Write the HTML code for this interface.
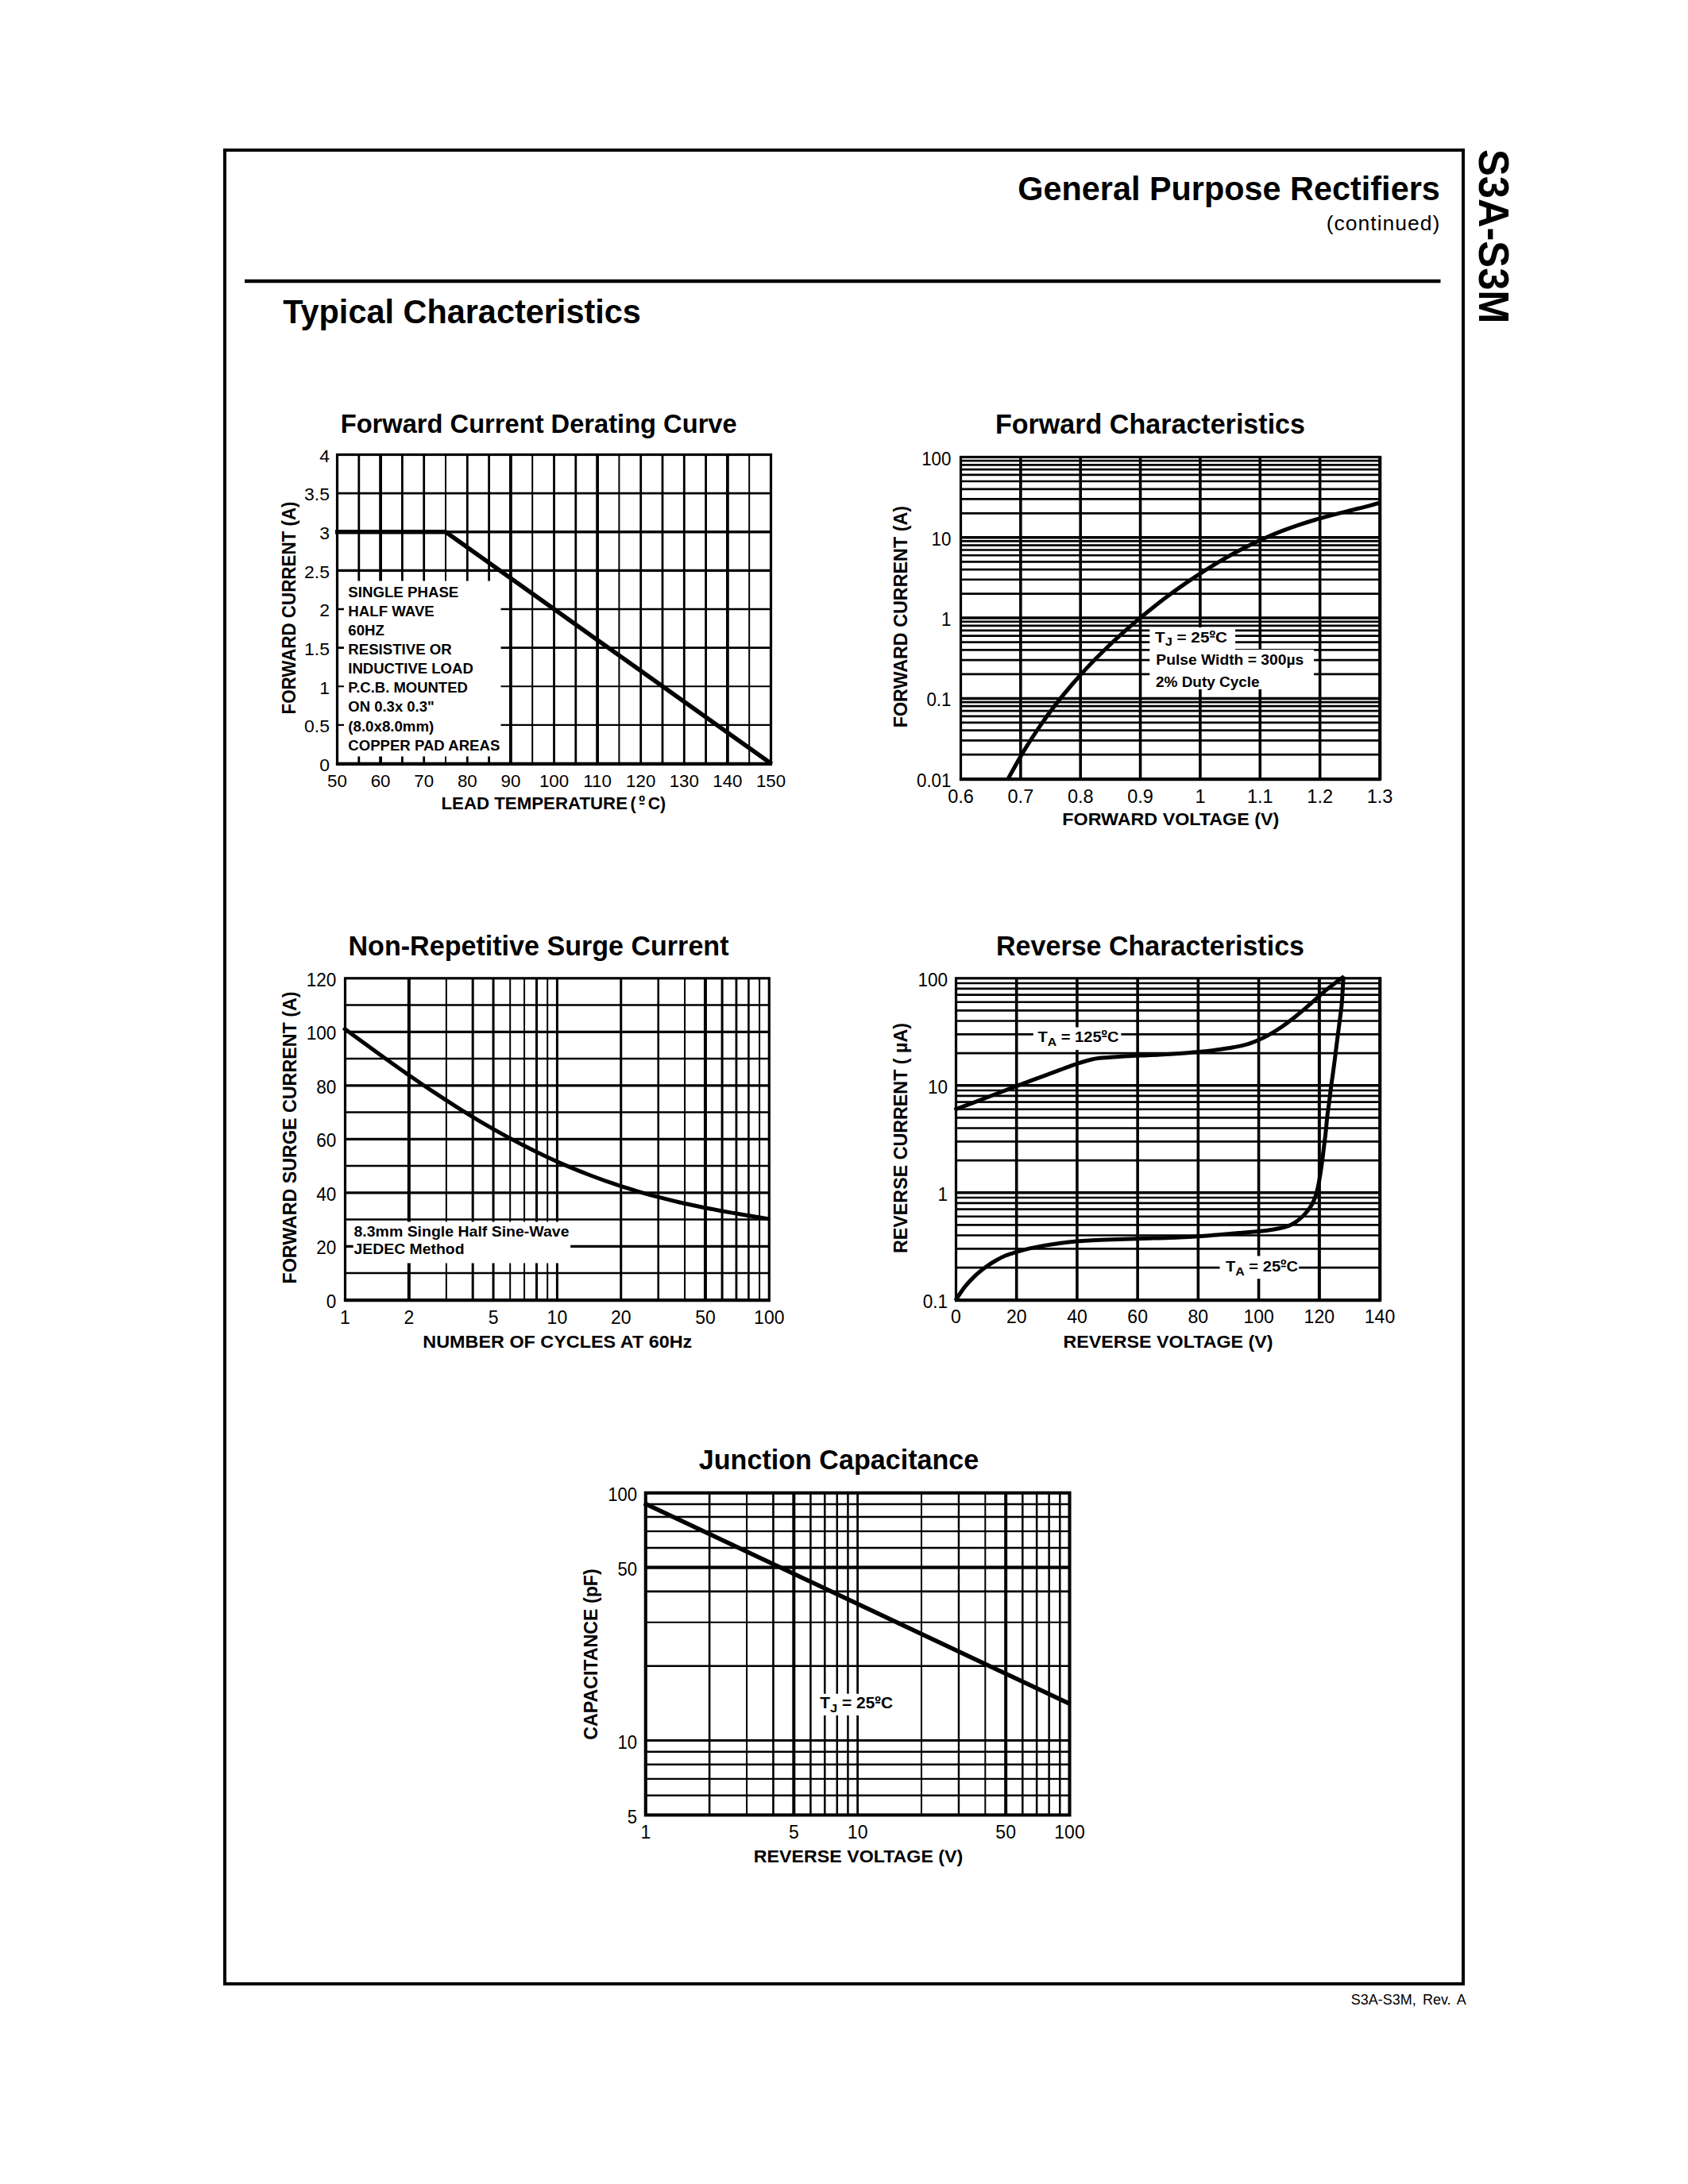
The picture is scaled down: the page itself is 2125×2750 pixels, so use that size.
<!DOCTYPE html><html><head><meta charset="utf-8"><title>S3A-S3M</title><style>html,body{margin:0;padding:0;background:#fff}svg{display:block}</style></head><body><svg width="2125" height="2750" viewBox="0 0 2125 2750" font-family='"Liberation Sans", sans-serif' fill="#000" stroke="#000">
<style>text{stroke:none}</style>
<rect x="283" y="189" width="1559" height="2309" fill="none" stroke-width="4"/>
<line x1="308.00" y1="354.00" x2="1813.50" y2="354.00" stroke-width="4.4"/>
<text x="1812.80" y="251.70" font-size="43.3" font-weight="bold" text-anchor="end" textLength="531.5" lengthAdjust="spacingAndGlyphs">General Purpose Rectifiers</text>
<text x="1812.30" y="290.00" font-size="26.5" text-anchor="end" textLength="142.5" lengthAdjust="spacing">(continued)</text>
<text x="356.30" y="407.00" font-size="43.3" font-weight="bold" textLength="450.5" lengthAdjust="spacingAndGlyphs">Typical Characteristics</text>
<text x="1861.80" y="188.00" font-size="53.5" font-weight="bold" textLength="219.5" lengthAdjust="spacingAndGlyphs" transform="rotate(90 1861.80 188.00)">S3A-S3M</text>
<text x="1845.8" y="2524" font-size="18" text-anchor="end" word-spacing="3.2">S3A-S3M, Rev. A</text>
<line x1="451.80" y1="572.50" x2="451.80" y2="961.50" stroke-width="2.8"/>
<line x1="479.10" y1="572.50" x2="479.10" y2="961.50" stroke-width="3.8"/>
<line x1="506.40" y1="572.50" x2="506.40" y2="961.50" stroke-width="2.8"/>
<line x1="533.70" y1="572.50" x2="533.70" y2="961.50" stroke-width="2.8"/>
<line x1="561.00" y1="572.50" x2="561.00" y2="961.50" stroke-width="2"/>
<line x1="588.30" y1="572.50" x2="588.30" y2="961.50" stroke-width="2.8"/>
<line x1="615.60" y1="572.50" x2="615.60" y2="961.50" stroke-width="2.8"/>
<line x1="642.90" y1="572.50" x2="642.90" y2="961.50" stroke-width="3.8"/>
<line x1="670.20" y1="572.50" x2="670.20" y2="961.50" stroke-width="2"/>
<line x1="697.50" y1="572.50" x2="697.50" y2="961.50" stroke-width="2.8"/>
<line x1="724.80" y1="572.50" x2="724.80" y2="961.50" stroke-width="2.8"/>
<line x1="752.10" y1="572.50" x2="752.10" y2="961.50" stroke-width="3.8"/>
<line x1="779.40" y1="572.50" x2="779.40" y2="961.50" stroke-width="2"/>
<line x1="806.70" y1="572.50" x2="806.70" y2="961.50" stroke-width="2.8"/>
<line x1="834.00" y1="572.50" x2="834.00" y2="961.50" stroke-width="2.8"/>
<line x1="861.30" y1="572.50" x2="861.30" y2="961.50" stroke-width="2.8"/>
<line x1="888.60" y1="572.50" x2="888.60" y2="961.50" stroke-width="2.8"/>
<line x1="915.90" y1="572.50" x2="915.90" y2="961.50" stroke-width="3.8"/>
<line x1="943.20" y1="572.50" x2="943.20" y2="961.50" stroke-width="2"/>
<line x1="424.50" y1="621.12" x2="970.50" y2="621.12" stroke-width="2.6"/>
<line x1="424.50" y1="669.75" x2="970.50" y2="669.75" stroke-width="3.3"/>
<line x1="424.50" y1="718.38" x2="970.50" y2="718.38" stroke-width="3.3"/>
<line x1="424.50" y1="767.00" x2="970.50" y2="767.00" stroke-width="2.6"/>
<line x1="424.50" y1="815.62" x2="970.50" y2="815.62" stroke-width="2.6"/>
<line x1="424.50" y1="864.25" x2="970.50" y2="864.25" stroke-width="2.2"/>
<line x1="424.50" y1="912.88" x2="970.50" y2="912.88" stroke-width="2.2"/>
<rect x="433.00" y="731.50" width="197.50" height="221.00" fill="#fff" stroke="none"/>
<rect x="424.5" y="572.5" width="546.0" height="389.0" fill="none" stroke-width="3.2"/>
<line x1="422.90" y1="961.90" x2="972.10" y2="961.90" stroke-width="4.1"/>
<polyline points="422.0,669.75 561.0,669.75 971.5,962.0" fill="none" stroke-width="5.5"/>
<text x="428.70" y="544.60" font-size="33.6" font-weight="bold" textLength="499" lengthAdjust="spacingAndGlyphs">Forward Current Derating Curve</text>
<text font-size="22.3" text-anchor="end" transform="translate(415.00 581.80) scale(1.03 1)">4</text>
<text font-size="22.3" text-anchor="end" transform="translate(415.00 630.42) scale(1.03 1)">3.5</text>
<text font-size="22.3" text-anchor="end" transform="translate(415.00 679.05) scale(1.03 1)">3</text>
<text font-size="22.3" text-anchor="end" transform="translate(415.00 727.67) scale(1.03 1)">2.5</text>
<text font-size="22.3" text-anchor="end" transform="translate(415.00 776.30) scale(1.03 1)">2</text>
<text font-size="22.3" text-anchor="end" transform="translate(415.00 824.92) scale(1.03 1)">1.5</text>
<text font-size="22.3" text-anchor="end" transform="translate(415.00 873.55) scale(1.03 1)">1</text>
<text font-size="22.3" text-anchor="end" transform="translate(415.00 922.17) scale(1.03 1)">0.5</text>
<text font-size="22.3" text-anchor="end" transform="translate(415.00 970.80) scale(1.03 1)">0</text>
<text font-size="22.3" text-anchor="middle" transform="translate(424.50 990.80) scale(1.0 1)">50</text>
<text font-size="22.3" text-anchor="middle" transform="translate(479.10 990.80) scale(1.0 1)">60</text>
<text font-size="22.3" text-anchor="middle" transform="translate(533.70 990.80) scale(1.0 1)">70</text>
<text font-size="22.3" text-anchor="middle" transform="translate(588.30 990.80) scale(1.0 1)">80</text>
<text font-size="22.3" text-anchor="middle" transform="translate(642.90 990.80) scale(1.0 1)">90</text>
<text font-size="22.3" text-anchor="middle" transform="translate(697.50 990.80) scale(1.0 1)">100</text>
<text font-size="22.3" text-anchor="middle" transform="translate(752.10 990.80) scale(1.0 1)">110</text>
<text font-size="22.3" text-anchor="middle" transform="translate(806.70 990.80) scale(1.0 1)">120</text>
<text font-size="22.3" text-anchor="middle" transform="translate(861.30 990.80) scale(1.0 1)">130</text>
<text font-size="22.3" text-anchor="middle" transform="translate(915.90 990.80) scale(1.0 1)">140</text>
<text font-size="22.3" text-anchor="middle" transform="translate(970.50 990.80) scale(1.0 1)">150</text>
<text y="1019.4" font-size="21.3" font-weight="bold"><tspan x="555.5" textLength="234.5" lengthAdjust="spacingAndGlyphs">LEAD TEMPERATURE</tspan><tspan x="787.7"> (</tspan><tspan class="ord" dy="-2" dx="3.6">º</tspan><tspan dy="2" dx="3.6">C)</tspan></text>
<text x="372.30" y="899.50" font-size="23.6" font-weight="bold" textLength="268" lengthAdjust="spacingAndGlyphs" transform="rotate(-90 372.30 899.50)">FORWARD CURRENT (A)</text>
<text x="438.30" y="751.80" font-size="18.2" font-weight="bold" textLength="139" lengthAdjust="spacingAndGlyphs">SINGLE PHASE</text>
<text x="438.30" y="775.90" font-size="18.2" font-weight="bold" textLength="108.5" lengthAdjust="spacingAndGlyphs">HALF WAVE</text>
<text x="438.30" y="800.00" font-size="18.2" font-weight="bold" textLength="45.5" lengthAdjust="spacingAndGlyphs">60HZ</text>
<text x="438.30" y="824.10" font-size="18.2" font-weight="bold" textLength="130.5" lengthAdjust="spacingAndGlyphs">RESISTIVE OR</text>
<text x="438.30" y="848.20" font-size="18.2" font-weight="bold" textLength="157.5" lengthAdjust="spacingAndGlyphs">INDUCTIVE LOAD</text>
<text x="438.30" y="872.30" font-size="18.2" font-weight="bold" textLength="150.5" lengthAdjust="spacingAndGlyphs">P.C.B. MOUNTED</text>
<text x="438.30" y="896.40" font-size="18.2" font-weight="bold" textLength="108.5" lengthAdjust="spacingAndGlyphs">ON 0.3x 0.3"</text>
<text x="438.30" y="920.50" font-size="18.2" font-weight="bold" textLength="108" lengthAdjust="spacingAndGlyphs">(8.0x8.0mm)</text>
<text x="438.30" y="944.60" font-size="18.2" font-weight="bold" textLength="191" lengthAdjust="spacingAndGlyphs">COPPER PAD AREAS</text>
<line x1="1209.50" y1="646.31" x2="1737.00" y2="646.31" stroke-width="2.7"/>
<line x1="1209.50" y1="628.47" x2="1737.00" y2="628.47" stroke-width="2.7"/>
<line x1="1209.50" y1="615.81" x2="1737.00" y2="615.81" stroke-width="2.7"/>
<line x1="1209.50" y1="605.99" x2="1737.00" y2="605.99" stroke-width="2.7"/>
<line x1="1209.50" y1="597.97" x2="1737.00" y2="597.97" stroke-width="2.7"/>
<line x1="1209.50" y1="591.19" x2="1737.00" y2="591.19" stroke-width="2.7"/>
<line x1="1209.50" y1="585.32" x2="1737.00" y2="585.32" stroke-width="2.7"/>
<line x1="1209.50" y1="580.14" x2="1737.00" y2="580.14" stroke-width="2.7"/>
<line x1="1209.50" y1="676.80" x2="1737.00" y2="676.80" stroke-width="3.5"/>
<line x1="1209.50" y1="747.61" x2="1737.00" y2="747.61" stroke-width="2.7"/>
<line x1="1209.50" y1="729.77" x2="1737.00" y2="729.77" stroke-width="2.7"/>
<line x1="1209.50" y1="717.11" x2="1737.00" y2="717.11" stroke-width="2.7"/>
<line x1="1209.50" y1="707.29" x2="1737.00" y2="707.29" stroke-width="2.7"/>
<line x1="1209.50" y1="699.27" x2="1737.00" y2="699.27" stroke-width="2.7"/>
<line x1="1209.50" y1="692.49" x2="1737.00" y2="692.49" stroke-width="2.7"/>
<line x1="1209.50" y1="686.62" x2="1737.00" y2="686.62" stroke-width="2.7"/>
<line x1="1209.50" y1="681.44" x2="1737.00" y2="681.44" stroke-width="2.7"/>
<line x1="1209.50" y1="778.10" x2="1737.00" y2="778.10" stroke-width="3.5"/>
<line x1="1209.50" y1="848.91" x2="1737.00" y2="848.91" stroke-width="2.7"/>
<line x1="1209.50" y1="831.07" x2="1737.00" y2="831.07" stroke-width="2.7"/>
<line x1="1209.50" y1="818.41" x2="1737.00" y2="818.41" stroke-width="2.7"/>
<line x1="1209.50" y1="808.59" x2="1737.00" y2="808.59" stroke-width="2.7"/>
<line x1="1209.50" y1="800.57" x2="1737.00" y2="800.57" stroke-width="2.7"/>
<line x1="1209.50" y1="793.79" x2="1737.00" y2="793.79" stroke-width="2.7"/>
<line x1="1209.50" y1="787.92" x2="1737.00" y2="787.92" stroke-width="2.7"/>
<line x1="1209.50" y1="782.74" x2="1737.00" y2="782.74" stroke-width="2.7"/>
<line x1="1209.50" y1="879.40" x2="1737.00" y2="879.40" stroke-width="3.5"/>
<line x1="1209.50" y1="950.21" x2="1737.00" y2="950.21" stroke-width="2.7"/>
<line x1="1209.50" y1="932.37" x2="1737.00" y2="932.37" stroke-width="2.7"/>
<line x1="1209.50" y1="919.71" x2="1737.00" y2="919.71" stroke-width="2.7"/>
<line x1="1209.50" y1="909.89" x2="1737.00" y2="909.89" stroke-width="2.7"/>
<line x1="1209.50" y1="901.87" x2="1737.00" y2="901.87" stroke-width="2.7"/>
<line x1="1209.50" y1="895.09" x2="1737.00" y2="895.09" stroke-width="2.7"/>
<line x1="1209.50" y1="889.22" x2="1737.00" y2="889.22" stroke-width="2.7"/>
<line x1="1209.50" y1="884.04" x2="1737.00" y2="884.04" stroke-width="2.7"/>
<line x1="1284.86" y1="575.50" x2="1284.86" y2="980.70" stroke-width="3.6"/>
<line x1="1360.21" y1="575.50" x2="1360.21" y2="980.70" stroke-width="3.6"/>
<line x1="1435.57" y1="575.50" x2="1435.57" y2="980.70" stroke-width="3.6"/>
<line x1="1510.93" y1="575.50" x2="1510.93" y2="980.70" stroke-width="3.6"/>
<line x1="1586.29" y1="575.50" x2="1586.29" y2="980.70" stroke-width="3.6"/>
<line x1="1661.64" y1="575.50" x2="1661.64" y2="980.70" stroke-width="3.6"/>
<rect x="1447.30" y="790.00" width="107.80" height="28.50" fill="#fff" stroke="none"/>
<rect x="1447.30" y="818.00" width="206.80" height="50.00" fill="#fff" stroke="none"/>
<rect x="1209.5" y="575.5" width="527.5" height="405.20000000000005" fill="none" stroke-width="3.2"/>
<line x1="1207.90" y1="981.10" x2="1738.60" y2="981.10" stroke-width="4.1"/>
<line x1="1737.30" y1="573.90" x2="1737.30" y2="982.30" stroke-width="4"/>
<path d="M1268.3,982.1 C1271.7,976.1 1281.9,957.2 1288.7,945.9 C1295.5,934.6 1302.3,924.2 1309.1,914.3 C1315.9,904.4 1322.7,895.2 1329.5,886.4 C1336.3,877.6 1343.1,869.4 1349.9,861.5 C1356.7,853.6 1363.5,846.1 1370.3,838.9 C1377.1,831.7 1383.9,824.9 1390.6,818.3 C1397.4,811.7 1404.2,805.3 1411.0,799.2 C1417.8,793.0 1424.6,787.1 1431.4,781.4 C1438.2,775.6 1445.0,770.1 1451.8,764.7 C1458.6,759.3 1465.4,754.1 1472.2,749.1 C1479.0,744.0 1485.8,739.2 1492.6,734.4 C1499.4,729.7 1506.2,725.2 1513.0,720.8 C1519.8,716.4 1526.6,712.2 1533.4,708.1 C1540.2,704.1 1547.0,700.2 1553.8,696.5 C1560.6,692.8 1567.4,689.3 1574.2,686.0 C1581.0,682.6 1587.8,679.5 1594.6,676.5 C1601.4,673.6 1608.2,670.8 1615.0,668.2 C1621.7,665.6 1628.5,663.2 1635.3,660.9 C1642.1,658.6 1648.9,656.5 1655.7,654.5 C1662.5,652.5 1669.3,650.7 1676.1,648.8 C1682.9,647.0 1689.7,645.4 1696.5,643.7 C1703.3,641.9 1710.1,640.3 1716.9,638.6 C1723.7,636.8 1733.9,634.0 1737.3,633.0" fill="none" stroke-width="5"/>
<text x="1253.00" y="546.40" font-size="34.6" font-weight="bold" textLength="390" lengthAdjust="spacingAndGlyphs">Forward Characteristics</text>
<text font-size="24" text-anchor="end" transform="translate(1197.40 585.50) scale(0.93 1)">100</text>
<text font-size="24" text-anchor="end" transform="translate(1197.40 686.80) scale(0.93 1)">10</text>
<text font-size="24" text-anchor="end" transform="translate(1197.40 788.10) scale(0.93 1)">1</text>
<text font-size="24" text-anchor="end" transform="translate(1197.40 889.40) scale(0.93 1)">0.1</text>
<text font-size="24" text-anchor="end" transform="translate(1197.40 990.70) scale(0.93 1)">0.01</text>
<text font-size="23.5" text-anchor="middle" transform="translate(1209.50 1010.90) scale(1.0 1)">0.6</text>
<text font-size="23.5" text-anchor="middle" transform="translate(1284.86 1010.90) scale(1.0 1)">0.7</text>
<text font-size="23.5" text-anchor="middle" transform="translate(1360.21 1010.90) scale(1.0 1)">0.8</text>
<text font-size="23.5" text-anchor="middle" transform="translate(1435.57 1010.90) scale(1.0 1)">0.9</text>
<text font-size="23.5" text-anchor="middle" transform="translate(1510.93 1010.90) scale(1.0 1)">1</text>
<text font-size="23.5" text-anchor="middle" transform="translate(1586.29 1010.90) scale(1.0 1)">1.1</text>
<text font-size="23.5" text-anchor="middle" transform="translate(1661.64 1010.90) scale(1.0 1)">1.2</text>
<text font-size="23.5" text-anchor="middle" transform="translate(1737.00 1010.90) scale(1.0 1)">1.3</text>
<text x="1337.30" y="1039.30" font-size="22" font-weight="bold" textLength="273" lengthAdjust="spacingAndGlyphs">FORWARD VOLTAGE (V)</text>
<text x="1142.30" y="916.30" font-size="24.5" font-weight="bold" textLength="279.3" lengthAdjust="spacingAndGlyphs" transform="rotate(-90 1142.30 916.30)">FORWARD CURRENT (A)</text>
<text x="1454.00" y="808.50" font-size="19" font-weight="bold" textLength="91" lengthAdjust="spacingAndGlyphs">T<tspan font-size="15" dy="4.8">J</tspan><tspan dy="-4.8"> = 25<tspan class="ord" dy="-2.0" dx="0">º</tspan><tspan dy="2.0" dx="0">C</tspan></tspan></text>
<text x="1455.30" y="837.00" font-size="18.6" font-weight="bold" textLength="186" lengthAdjust="spacingAndGlyphs">Pulse Width = 300µs</text>
<text x="1455.00" y="864.70" font-size="18.6" font-weight="bold" textLength="130.6" lengthAdjust="spacingAndGlyphs">2% Duty Cycle</text>
<line x1="434.50" y1="1265.55" x2="968.30" y2="1265.55" stroke-width="2.4"/>
<line x1="434.50" y1="1299.30" x2="968.30" y2="1299.30" stroke-width="3.3"/>
<line x1="434.50" y1="1333.05" x2="968.30" y2="1333.05" stroke-width="2.4"/>
<line x1="434.50" y1="1366.80" x2="968.30" y2="1366.80" stroke-width="3.3"/>
<line x1="434.50" y1="1400.55" x2="968.30" y2="1400.55" stroke-width="2.4"/>
<line x1="434.50" y1="1434.30" x2="968.30" y2="1434.30" stroke-width="3.3"/>
<line x1="434.50" y1="1468.05" x2="968.30" y2="1468.05" stroke-width="2.4"/>
<line x1="434.50" y1="1501.80" x2="968.30" y2="1501.80" stroke-width="3.3"/>
<line x1="434.50" y1="1535.55" x2="968.30" y2="1535.55" stroke-width="2.4"/>
<line x1="434.50" y1="1569.30" x2="968.30" y2="1569.30" stroke-width="3.3"/>
<line x1="434.50" y1="1603.05" x2="968.30" y2="1603.05" stroke-width="2.4"/>
<line x1="514.84" y1="1231.80" x2="514.84" y2="1636.80" stroke-width="4"/>
<line x1="561.84" y1="1231.80" x2="561.84" y2="1636.80" stroke-width="2"/>
<line x1="595.19" y1="1231.80" x2="595.19" y2="1636.80" stroke-width="3"/>
<line x1="621.06" y1="1231.80" x2="621.06" y2="1636.80" stroke-width="3"/>
<line x1="642.19" y1="1231.80" x2="642.19" y2="1636.80" stroke-width="2"/>
<line x1="660.06" y1="1231.80" x2="660.06" y2="1636.80" stroke-width="2"/>
<line x1="675.53" y1="1231.80" x2="675.53" y2="1636.80" stroke-width="3"/>
<line x1="689.19" y1="1231.80" x2="689.19" y2="1636.80" stroke-width="2"/>
<line x1="701.40" y1="1231.80" x2="701.40" y2="1636.80" stroke-width="3"/>
<line x1="781.74" y1="1231.80" x2="781.74" y2="1636.80" stroke-width="3"/>
<line x1="828.74" y1="1231.80" x2="828.74" y2="1636.80" stroke-width="2.6"/>
<line x1="862.09" y1="1231.80" x2="862.09" y2="1636.80" stroke-width="2"/>
<line x1="887.96" y1="1231.80" x2="887.96" y2="1636.80" stroke-width="4"/>
<line x1="909.09" y1="1231.80" x2="909.09" y2="1636.80" stroke-width="3"/>
<line x1="926.96" y1="1231.80" x2="926.96" y2="1636.80" stroke-width="2.8"/>
<line x1="942.43" y1="1231.80" x2="942.43" y2="1636.80" stroke-width="2.6"/>
<line x1="956.09" y1="1231.80" x2="956.09" y2="1636.80" stroke-width="2"/>
<rect x="444.70" y="1538.50" width="273.50" height="52.00" fill="#fff" stroke="none"/>
<rect x="434.5" y="1231.8" width="533.8" height="405.0" fill="none" stroke-width="3.2"/>
<line x1="432.90" y1="1637.20" x2="969.90" y2="1637.20" stroke-width="4.1"/>
<path d="M432.3,1294.2 C437.0,1297.7 451.2,1308.2 460.6,1315.0 C470.0,1321.9 479.4,1328.8 488.9,1335.5 C498.3,1342.3 507.7,1348.9 517.2,1355.5 C526.6,1362.0 536.0,1368.5 545.4,1374.7 C554.9,1381.0 564.3,1387.2 573.7,1393.1 C583.1,1399.1 592.6,1404.9 602.0,1410.6 C611.4,1416.2 620.9,1421.6 630.3,1426.9 C639.7,1432.1 649.1,1437.2 658.6,1442.0 C668.0,1446.9 677.4,1451.5 686.9,1455.9 C696.3,1460.4 705.7,1464.6 715.1,1468.6 C724.6,1472.6 734.0,1476.4 743.4,1480.0 C752.9,1483.6 762.3,1487.0 771.7,1490.2 C781.1,1493.5 790.6,1496.4 800.0,1499.3 C809.4,1502.1 818.9,1504.7 828.3,1507.2 C837.7,1509.7 847.1,1512.0 856.6,1514.2 C866.0,1516.3 875.4,1518.3 884.8,1520.3 C894.3,1522.2 903.7,1523.9 913.1,1525.6 C922.6,1527.4 932.0,1528.9 941.4,1530.5 C950.8,1532.1 965.0,1534.3 969.7,1535.1" fill="none" stroke-width="5"/>
<text x="438.50" y="1202.50" font-size="34.8" font-weight="bold" textLength="479" lengthAdjust="spacingAndGlyphs">Non-Repetitive Surge Current</text>
<text font-size="23.5" text-anchor="end" transform="translate(423.30 1241.80) scale(0.96 1)">120</text>
<text font-size="23.5" text-anchor="end" transform="translate(423.30 1309.30) scale(0.96 1)">100</text>
<text font-size="23.5" text-anchor="end" transform="translate(423.30 1376.80) scale(0.96 1)">80</text>
<text font-size="23.5" text-anchor="end" transform="translate(423.30 1444.30) scale(0.96 1)">60</text>
<text font-size="23.5" text-anchor="end" transform="translate(423.30 1511.80) scale(0.96 1)">40</text>
<text font-size="23.5" text-anchor="end" transform="translate(423.30 1579.30) scale(0.96 1)">20</text>
<text font-size="23.5" text-anchor="end" transform="translate(423.30 1646.80) scale(0.96 1)">0</text>
<text font-size="23" text-anchor="middle" transform="translate(434.50 1666.60) scale(1.0 1)">1</text>
<text font-size="23" text-anchor="middle" transform="translate(514.84 1666.60) scale(1.0 1)">2</text>
<text font-size="23" text-anchor="middle" transform="translate(621.06 1666.60) scale(1.0 1)">5</text>
<text font-size="23" text-anchor="middle" transform="translate(701.40 1666.60) scale(1.0 1)">10</text>
<text font-size="23" text-anchor="middle" transform="translate(781.74 1666.60) scale(1.0 1)">20</text>
<text font-size="23" text-anchor="middle" transform="translate(887.96 1666.60) scale(1.0 1)">50</text>
<text font-size="23" text-anchor="middle" transform="translate(968.30 1666.60) scale(1.0 1)">100</text>
<text x="532.30" y="1696.60" font-size="22.5" font-weight="bold" textLength="339" lengthAdjust="spacingAndGlyphs">NUMBER OF CYCLES AT 60Hz</text>
<text x="372.90" y="1616.50" font-size="23.5" font-weight="bold" textLength="368" lengthAdjust="spacingAndGlyphs" transform="rotate(-90 372.90 1616.50)">FORWARD SURGE CURRENT (A)</text>
<text x="445.50" y="1557.30" font-size="18.5" font-weight="bold" textLength="271" lengthAdjust="spacingAndGlyphs">8.3mm Single Half Sine-Wave</text>
<text x="445.50" y="1579.40" font-size="18.5" font-weight="bold" textLength="139" lengthAdjust="spacingAndGlyphs">JEDEC Method</text>
<line x1="1203.50" y1="1326.16" x2="1737.00" y2="1326.16" stroke-width="2.7"/>
<line x1="1203.50" y1="1302.39" x2="1737.00" y2="1302.39" stroke-width="2.7"/>
<line x1="1203.50" y1="1285.52" x2="1737.00" y2="1285.52" stroke-width="2.7"/>
<line x1="1203.50" y1="1272.44" x2="1737.00" y2="1272.44" stroke-width="2.7"/>
<line x1="1203.50" y1="1261.75" x2="1737.00" y2="1261.75" stroke-width="2.7"/>
<line x1="1203.50" y1="1252.71" x2="1737.00" y2="1252.71" stroke-width="2.7"/>
<line x1="1203.50" y1="1244.88" x2="1737.00" y2="1244.88" stroke-width="2.7"/>
<line x1="1203.50" y1="1237.98" x2="1737.00" y2="1237.98" stroke-width="2.7"/>
<line x1="1203.50" y1="1366.80" x2="1737.00" y2="1366.80" stroke-width="3.5"/>
<line x1="1203.50" y1="1461.16" x2="1737.00" y2="1461.16" stroke-width="2.7"/>
<line x1="1203.50" y1="1437.39" x2="1737.00" y2="1437.39" stroke-width="2.7"/>
<line x1="1203.50" y1="1420.52" x2="1737.00" y2="1420.52" stroke-width="2.7"/>
<line x1="1203.50" y1="1407.44" x2="1737.00" y2="1407.44" stroke-width="2.7"/>
<line x1="1203.50" y1="1396.75" x2="1737.00" y2="1396.75" stroke-width="2.7"/>
<line x1="1203.50" y1="1387.71" x2="1737.00" y2="1387.71" stroke-width="2.7"/>
<line x1="1203.50" y1="1379.88" x2="1737.00" y2="1379.88" stroke-width="2.7"/>
<line x1="1203.50" y1="1372.98" x2="1737.00" y2="1372.98" stroke-width="2.7"/>
<line x1="1203.50" y1="1501.80" x2="1737.00" y2="1501.80" stroke-width="3.5"/>
<line x1="1203.50" y1="1596.16" x2="1737.00" y2="1596.16" stroke-width="2.7"/>
<line x1="1203.50" y1="1572.39" x2="1737.00" y2="1572.39" stroke-width="2.7"/>
<line x1="1203.50" y1="1555.52" x2="1737.00" y2="1555.52" stroke-width="2.7"/>
<line x1="1203.50" y1="1542.44" x2="1737.00" y2="1542.44" stroke-width="2.7"/>
<line x1="1203.50" y1="1531.75" x2="1737.00" y2="1531.75" stroke-width="2.7"/>
<line x1="1203.50" y1="1522.71" x2="1737.00" y2="1522.71" stroke-width="2.7"/>
<line x1="1203.50" y1="1514.88" x2="1737.00" y2="1514.88" stroke-width="2.7"/>
<line x1="1203.50" y1="1507.98" x2="1737.00" y2="1507.98" stroke-width="2.7"/>
<line x1="1279.71" y1="1231.80" x2="1279.71" y2="1636.80" stroke-width="3.6"/>
<line x1="1355.93" y1="1231.80" x2="1355.93" y2="1636.80" stroke-width="3.6"/>
<line x1="1432.14" y1="1231.80" x2="1432.14" y2="1636.80" stroke-width="3.6"/>
<line x1="1508.36" y1="1231.80" x2="1508.36" y2="1636.80" stroke-width="3.6"/>
<line x1="1584.57" y1="1231.80" x2="1584.57" y2="1636.80" stroke-width="3.6"/>
<line x1="1660.79" y1="1231.80" x2="1660.79" y2="1636.80" stroke-width="3.6"/>
<rect x="1300.80" y="1293.50" width="110.50" height="28.50" fill="#fff" stroke="none"/>
<rect x="1535.50" y="1581.50" width="99.70" height="28.70" fill="#fff" stroke="none"/>
<rect x="1203.5" y="1231.8" width="533.5" height="405.0" fill="none" stroke-width="3.2"/>
<line x1="1201.90" y1="1637.20" x2="1738.60" y2="1637.20" stroke-width="4.1"/>
<line x1="1737.30" y1="1230.20" x2="1737.30" y2="1638.40" stroke-width="4"/>
<line x1="1660.79" y1="1231.80" x2="1660.79" y2="1636.80" stroke-width="3.8"/>
<path d="M1201.5,1397.4 C1208.3,1394.8 1229.2,1387.0 1242.2,1382.0 C1255.2,1377.0 1266.8,1372.4 1279.5,1367.6 C1292.2,1362.8 1305.9,1357.8 1318.6,1353.1 C1331.3,1348.4 1347.0,1342.5 1355.9,1339.4 C1364.8,1336.3 1367.2,1335.8 1371.9,1334.6 C1376.7,1333.4 1378.2,1333.0 1384.4,1332.3 C1390.6,1331.6 1401.3,1331.0 1409.3,1330.5 C1417.3,1330.0 1424.0,1329.5 1432.4,1329.1 C1440.9,1328.7 1451.2,1328.5 1460.0,1328.0 C1468.8,1327.5 1476.8,1327.0 1484.9,1326.4 C1493.1,1325.8 1500.6,1325.4 1508.9,1324.6 C1517.2,1323.8 1527.3,1322.6 1534.6,1321.6 C1541.8,1320.6 1546.5,1319.9 1552.4,1318.8 C1558.3,1317.7 1564.9,1316.5 1570.2,1314.9 C1575.5,1313.4 1579.7,1311.6 1584.4,1309.5 C1589.1,1307.4 1593.9,1305.1 1598.6,1302.4 C1603.3,1299.7 1608.0,1296.8 1612.8,1293.5 C1617.5,1290.2 1622.3,1286.6 1627.1,1282.9 C1631.8,1279.2 1636.6,1275.3 1641.3,1271.3 C1646.0,1267.3 1650.8,1263.1 1655.5,1258.9 C1660.2,1254.8 1665.3,1250.1 1669.7,1246.4 C1674.1,1242.7 1678.4,1239.5 1682.1,1236.7 C1685.8,1233.9 1690.3,1230.7 1692.0,1229.5" fill="none" stroke-width="5"/>
<path d="M1202.8,1637.5 C1204.8,1634.6 1210.8,1625.1 1214.9,1619.9 C1219.0,1614.8 1222.9,1610.8 1227.3,1606.6 C1231.7,1602.4 1237.0,1598.3 1241.5,1595.0 C1246.0,1591.7 1249.8,1589.4 1254.0,1587.0 C1258.2,1584.6 1262.1,1582.6 1266.4,1580.8 C1270.7,1579.0 1274.7,1577.9 1279.7,1576.4 C1284.7,1574.9 1290.8,1573.2 1296.6,1571.9 C1302.4,1570.6 1308.5,1569.4 1314.4,1568.4 C1320.3,1567.4 1325.4,1566.6 1332.2,1565.7 C1339.0,1564.8 1346.4,1563.8 1355.3,1563.1 C1364.2,1562.4 1372.8,1561.8 1385.5,1561.3 C1398.2,1560.8 1419.3,1560.2 1431.7,1559.8 C1444.1,1559.4 1451.1,1559.2 1460.0,1558.9 C1468.9,1558.6 1476.8,1558.3 1484.9,1558.0 C1493.1,1557.7 1500.6,1557.3 1508.9,1556.8 C1517.2,1556.2 1526.2,1555.4 1534.6,1554.7 C1543.0,1554.0 1551.2,1553.3 1559.5,1552.6 C1567.8,1551.9 1577.3,1551.3 1584.4,1550.6 C1591.5,1549.9 1596.3,1549.3 1602.2,1548.3 C1608.1,1547.3 1615.2,1545.9 1619.9,1544.4 C1624.6,1542.9 1627.3,1541.2 1630.6,1539.1 C1633.9,1537.0 1636.8,1534.5 1639.5,1532.0 C1642.2,1529.5 1644.5,1526.7 1646.6,1524.0 C1648.7,1521.3 1650.3,1519.1 1651.9,1516.0 C1653.5,1512.9 1655.2,1508.9 1656.4,1505.3 C1657.6,1501.7 1658.3,1498.8 1659.2,1494.6 C1660.1,1490.4 1660.9,1485.7 1661.8,1480.4 C1662.7,1475.1 1663.6,1468.6 1664.4,1462.7 C1665.2,1456.8 1665.9,1451.0 1666.6,1445.0 C1667.3,1439.0 1668.1,1433.3 1668.8,1427.0 C1669.5,1420.7 1670.0,1413.8 1670.7,1407.3 C1671.5,1400.8 1672.4,1394.5 1673.3,1387.7 C1674.2,1380.9 1675.1,1372.6 1675.9,1366.4 C1676.7,1360.2 1677.3,1357.1 1678.2,1350.4 C1679.1,1343.7 1680.3,1334.4 1681.3,1326.4 C1682.3,1318.4 1683.4,1309.4 1684.3,1302.4 C1685.2,1295.4 1685.8,1291.1 1686.6,1284.6 C1687.4,1278.1 1688.4,1272.5 1689.2,1263.3 C1690.0,1254.1 1690.9,1235.1 1691.2,1229.5" fill="none" stroke-width="5"/>
<text x="1254.00" y="1202.50" font-size="34.8" font-weight="bold" textLength="388" lengthAdjust="spacingAndGlyphs">Reverse Characteristics</text>
<text font-size="23.5" text-anchor="end" transform="translate(1193.00 1241.80) scale(0.96 1)">100</text>
<text font-size="23.5" text-anchor="end" transform="translate(1193.00 1376.80) scale(0.96 1)">10</text>
<text font-size="23.5" text-anchor="end" transform="translate(1193.00 1511.80) scale(0.96 1)">1</text>
<text font-size="23.5" text-anchor="end" transform="translate(1193.00 1646.80) scale(0.96 1)">0.1</text>
<text font-size="23" text-anchor="middle" transform="translate(1203.50 1666.40) scale(1.0 1)">0</text>
<text font-size="23" text-anchor="middle" transform="translate(1279.71 1666.40) scale(1.0 1)">20</text>
<text font-size="23" text-anchor="middle" transform="translate(1355.93 1666.40) scale(1.0 1)">40</text>
<text font-size="23" text-anchor="middle" transform="translate(1432.14 1666.40) scale(1.0 1)">60</text>
<text font-size="23" text-anchor="middle" transform="translate(1508.36 1666.40) scale(1.0 1)">80</text>
<text font-size="23" text-anchor="middle" transform="translate(1584.57 1666.40) scale(1.0 1)">100</text>
<text font-size="23" text-anchor="middle" transform="translate(1660.79 1666.40) scale(1.0 1)">120</text>
<text font-size="23" text-anchor="middle" transform="translate(1737.00 1666.40) scale(1.0 1)">140</text>
<text x="1338.50" y="1696.60" font-size="22.5" font-weight="bold" textLength="264" lengthAdjust="spacingAndGlyphs">REVERSE VOLTAGE (V)</text>
<text x="1142.30" y="1578.00" font-size="24.5" font-weight="bold" textLength="290" lengthAdjust="spacingAndGlyphs" transform="rotate(-90 1142.30 1578.00)">REVERSE CURRENT ( µA)</text>
<text x="1306.50" y="1311.70" font-size="19" font-weight="bold" textLength="102" lengthAdjust="spacingAndGlyphs">T<tspan font-size="15" dy="5">A</tspan><tspan dy="-5"> = 125<tspan class="ord" dy="-2.0" dx="0">º</tspan><tspan dy="2.0" dx="0">C</tspan></tspan></text>
<text x="1543.00" y="1601.30" font-size="19" font-weight="bold" textLength="91" lengthAdjust="spacingAndGlyphs">T<tspan font-size="15" dy="5">A</tspan><tspan dy="-5"> = 25<tspan class="ord" dy="-2.0" dx="0">º</tspan><tspan dy="2.0" dx="0">C</tspan></tspan></text>
<line x1="812.80" y1="1894.07" x2="1346.50" y2="1894.07" stroke-width="2.4"/>
<line x1="812.80" y1="1910.01" x2="1346.50" y2="1910.01" stroke-width="2.4"/>
<line x1="812.80" y1="1928.09" x2="1346.50" y2="1928.09" stroke-width="2.4"/>
<line x1="812.80" y1="1948.96" x2="1346.50" y2="1948.96" stroke-width="2.4"/>
<line x1="812.80" y1="1973.65" x2="1346.50" y2="1973.65" stroke-width="4.2"/>
<line x1="812.80" y1="2003.86" x2="1346.50" y2="2003.86" stroke-width="2.8"/>
<line x1="812.80" y1="2042.81" x2="1346.50" y2="2042.81" stroke-width="1.9"/>
<line x1="812.80" y1="2097.71" x2="1346.50" y2="2097.71" stroke-width="2.4"/>
<line x1="812.80" y1="2191.55" x2="1346.50" y2="2191.55" stroke-width="3"/>
<line x1="812.80" y1="2205.82" x2="1346.50" y2="2205.82" stroke-width="2.4"/>
<line x1="812.80" y1="2221.76" x2="1346.50" y2="2221.76" stroke-width="2.4"/>
<line x1="812.80" y1="2239.84" x2="1346.50" y2="2239.84" stroke-width="2.4"/>
<line x1="812.80" y1="2260.72" x2="1346.50" y2="2260.72" stroke-width="2.4"/>
<line x1="893.13" y1="1879.80" x2="893.13" y2="2285.40" stroke-width="2.6"/>
<line x1="940.12" y1="1879.80" x2="940.12" y2="2285.40" stroke-width="2"/>
<line x1="973.46" y1="1879.80" x2="973.46" y2="2285.40" stroke-width="2.6"/>
<line x1="999.32" y1="1879.80" x2="999.32" y2="2285.40" stroke-width="4"/>
<line x1="1020.45" y1="1879.80" x2="1020.45" y2="2285.40" stroke-width="2.5"/>
<line x1="1038.31" y1="1879.80" x2="1038.31" y2="2285.40" stroke-width="2.5"/>
<line x1="1053.79" y1="1879.80" x2="1053.79" y2="2285.40" stroke-width="2.5"/>
<line x1="1067.44" y1="1879.80" x2="1067.44" y2="2285.40" stroke-width="2.5"/>
<line x1="1079.65" y1="1879.80" x2="1079.65" y2="2285.40" stroke-width="2.8"/>
<line x1="1159.98" y1="1879.80" x2="1159.98" y2="2285.40" stroke-width="2"/>
<line x1="1206.97" y1="1879.80" x2="1206.97" y2="2285.40" stroke-width="2.4"/>
<line x1="1240.31" y1="1879.80" x2="1240.31" y2="2285.40" stroke-width="2"/>
<line x1="1266.17" y1="1879.80" x2="1266.17" y2="2285.40" stroke-width="4"/>
<line x1="1287.30" y1="1879.80" x2="1287.30" y2="2285.40" stroke-width="2.5"/>
<line x1="1305.16" y1="1879.80" x2="1305.16" y2="2285.40" stroke-width="2.5"/>
<line x1="1320.64" y1="1879.80" x2="1320.64" y2="2285.40" stroke-width="2.5"/>
<line x1="1334.29" y1="1879.80" x2="1334.29" y2="2285.40" stroke-width="2.5"/>
<rect x="1029.00" y="2132.70" width="96.00" height="27.30" fill="#fff" stroke="none"/>
<rect x="812.8" y="1879.8" width="533.7" height="405.60000000000014" fill="none" stroke-width="4.1"/>
<line x1="810.8" y1="1892.8" x2="1347.5" y2="2145.8" stroke-width="5.5"/>
<text x="879.80" y="1850.30" font-size="34.6" font-weight="bold" textLength="352.5" lengthAdjust="spacingAndGlyphs">Junction Capacitance</text>
<text font-size="23" text-anchor="end" transform="translate(802.00 1890.00) scale(0.96 1)">100</text>
<text font-size="23" text-anchor="end" transform="translate(802.00 1983.85) scale(0.96 1)">50</text>
<text font-size="23" text-anchor="end" transform="translate(802.00 2201.75) scale(0.96 1)">10</text>
<text font-size="23" text-anchor="end" transform="translate(802.00 2295.60) scale(0.96 1)">5</text>
<text font-size="23" text-anchor="middle" transform="translate(812.80 2315.30) scale(1.0 1)">1</text>
<text font-size="23" text-anchor="middle" transform="translate(999.32 2315.30) scale(1.0 1)">5</text>
<text font-size="23" text-anchor="middle" transform="translate(1079.65 2315.30) scale(1.0 1)">10</text>
<text font-size="23" text-anchor="middle" transform="translate(1266.17 2315.30) scale(1.0 1)">50</text>
<text font-size="23" text-anchor="middle" transform="translate(1346.50 2315.30) scale(1.0 1)">100</text>
<text x="948.80" y="2344.50" font-size="22.5" font-weight="bold" textLength="263.5" lengthAdjust="spacingAndGlyphs">REVERSE VOLTAGE (V)</text>
<text x="751.80" y="2190.80" font-size="23.4" font-weight="bold" textLength="215.5" lengthAdjust="spacingAndGlyphs" transform="rotate(-90 751.80 2190.80)">CAPACITANCE (pF)</text>
<text x="1032.30" y="2150.70" font-size="19.6" font-weight="bold" textLength="91.8" lengthAdjust="spacingAndGlyphs">T<tspan font-size="15.5" dy="5.6">J</tspan><tspan dy="-5.6"> = 25<tspan class="ord" dy="-2.0" dx="0">º</tspan><tspan dy="2.0" dx="0">C</tspan></tspan></text>
<line x1="805.17" y1="1012.18" x2="811.24" y2="1012.18" stroke-width="1.92"/>
<line x1="1523.20" y1="801.85" x2="1529.26" y2="801.85" stroke-width="1.71"/>
<line x1="1387.39" y1="1305.04" x2="1393.22" y2="1305.04" stroke-width="1.71"/>
<line x1="1612.85" y1="1594.65" x2="1618.70" y2="1594.65" stroke-width="1.71"/>
<line x1="1102.13" y1="2143.90" x2="1108.21" y2="2143.90" stroke-width="1.76"/>
</svg></body></html>
